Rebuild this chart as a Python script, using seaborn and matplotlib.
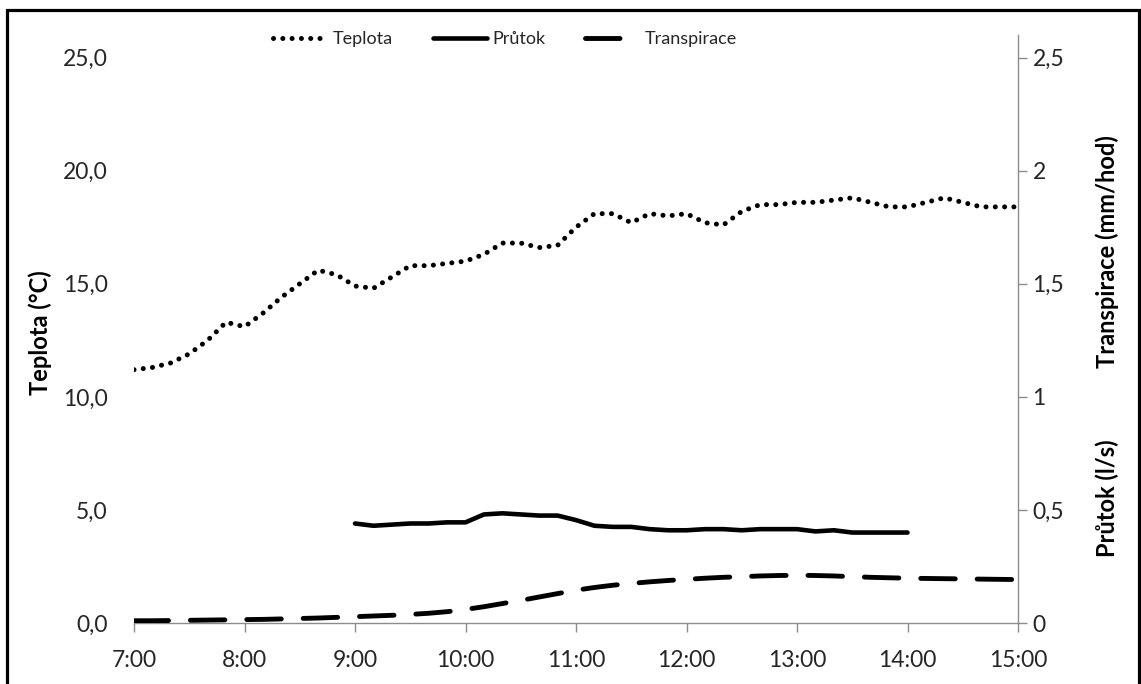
import numpy as np
import pandas as pd
import matplotlib
matplotlib.use("Agg")
import matplotlib.pyplot as plt
from matplotlib.patches import Rectangle
import seaborn as sns

# Air temperature (°C), 10-minute readings 7:00-15:00
teplota = [11.2, 11.3, 11.5, 11.9, 12.5, 13.3, 13.1, 13.7, 14.4, 15.0,
           15.6, 15.4, 14.9, 14.8, 15.3, 15.8, 15.8, 15.9, 16.0, 16.3,
           16.8, 16.8, 16.6, 16.7, 17.5, 18.1, 18.1, 17.7, 18.1, 18.0,
           18.1, 17.7, 17.6, 18.2, 18.5, 18.5, 18.6, 18.6, 18.7, 18.8,
           18.6, 18.4, 18.4, 18.6, 18.8, 18.6, 18.4, 18.4, 18.4]

# Sap flow (l/s), 10-minute readings 9:00-14:00
prutok = [0.440, 0.430, 0.435, 0.440, 0.440, 0.445, 0.445, 0.480, 0.485, 0.480,
          0.475, 0.475, 0.455, 0.430, 0.425, 0.425, 0.415, 0.410, 0.410, 0.415,
          0.415, 0.410, 0.415, 0.415, 0.415, 0.405, 0.410, 0.400, 0.400, 0.400,
          0.400]

# Transpiration (mm/hod), 10-minute readings 7:00-15:00
transpirace = [0.010, 0.010, 0.011, 0.012, 0.013, 0.014, 0.015, 0.016, 0.018, 0.020,
               0.022, 0.025, 0.028, 0.031, 0.034, 0.038, 0.043, 0.050, 0.060, 0.072,
               0.086, 0.100, 0.115, 0.130, 0.145, 0.157, 0.167, 0.175, 0.182, 0.188,
               0.193, 0.198, 0.202, 0.205, 0.208, 0.210, 0.211, 0.210, 0.208, 0.205,
               0.202, 0.200, 0.198, 0.197, 0.196, 0.195, 0.194, 0.193, 0.192]

time_all = pd.date_range("2000-01-01 07:00", "2000-01-01 15:00", freq="10min")
time_prutok = pd.date_range("2000-01-01 09:00", "2000-01-01 14:00", freq="10min")

x_ticks = pd.date_range("2000-01-01 07:00", "2000-01-01 15:00", freq="1h")
x_ticklabels = ["7:00", "8:00", "9:00", "10:00", "11:00", "12:00", "13:00", "14:00", "15:00"]
left_ticks = [0, 5, 10, 15, 20, 25]
left_ticklabels = ["0,0", "5,0", "10,0", "15,0", "20,0", "25,0"]
right_ticks = [0, 0.5, 1, 1.5, 2, 2.5]
right_ticklabels = ["0", "0,5", "1", "1,5", "2", "2,5"]

sns.set_style("white")
plt.rcParams["font.family"] = ["Lato", "DejaVu Sans"]

W, H = 1141, 684
fig = plt.figure(figsize=(W / 100, H / 100), dpi=100)
ax = fig.add_axes([134 / W, 61 / H, 884 / W, 588 / H])
ax2 = ax.twinx()

line_kw = dict(color="black", solid_capstyle="round", dash_capstyle="round")
sns.lineplot(x=time_all, y=teplota, ax=ax, lw=3.6,
             linestyle=(0, (0.01, 1.85)), label="Teplota", legend=False, **line_kw)
sns.lineplot(x=time_prutok, y=prutok, ax=ax2, lw=3.3,
             label="Průtok", legend=False, **line_kw)
sns.lineplot(x=time_all, y=transpirace, ax=ax2, lw=3.5,
             linestyle=(0, (7.1, 4.5)), label="Transpirace", legend=False, **line_kw)

axis_gray = "#8c8c8c"
text_col = "#262626"

ax.set_xlim(time_all[0], time_all[-1])
ax.set_ylim(0, 26)
ax2.set_ylim(0, 2.6)

ax.set_xticks(x_ticks)
ax.set_xticklabels(x_ticklabels)
ax.set_yticks(left_ticks)
ax.set_yticklabels(left_ticklabels)
ax2.set_yticks(right_ticks)
ax2.set_yticklabels(right_ticklabels)

for a in (ax, ax2):
    a.set_xlabel("")
    a.set_ylabel("")
    for s in a.spines.values():
        s.set_visible(False)
    a.patch.set_visible(False)

ax.spines["bottom"].set_visible(True)
ax.spines["bottom"].set_color(axis_gray)
ax.spines["bottom"].set_linewidth(1.0)
ax2.spines["right"].set_visible(True)
ax2.spines["right"].set_color(axis_gray)
ax2.spines["right"].set_linewidth(1.0)

ax.tick_params(axis="x", direction="out", length=6.5, width=1.0, color=axis_gray,
               pad=13, labelsize=16.5, labelcolor=text_col, bottom=True)
ax.tick_params(axis="y", length=0, pad=19, labelsize=16.5, labelcolor=text_col, left=True)
ax2.tick_params(axis="y", direction="out", length=6.5, width=1.0, color=axis_gray,
                pad=4, labelsize=16.5, labelcolor=text_col, right=True)

title_kw = dict(rotation=90, fontsize=17, fontweight="bold", ha="center",
                va="center", color="black")
fig.text(40 / W, 1 - 333 / H, "Teplota (°C)", **title_kw)
fig.text(1107 / W, 1 - 252 / H, "Transpirace (mm/hod)", **title_kw)
fig.text(1107 / W, 1 - 498 / H, "Průtok (l/s)", **title_kw)

handles = [ax.lines[0], ax2.lines[0], ax2.lines[1]]
fig.legend(handles, ["Teplota", "Průtok", "Transpirace"], ncol=3, loc="center",
           bbox_to_anchor=(505 / W, 1 - 39 / H), frameon=False, fontsize=13,
           handlelength=3.0, handletextpad=0.3, columnspacing=2.2,
           borderpad=0, borderaxespad=0)

fig.add_artist(Rectangle((6.5 / W, -0.05), (1138.5 - 6.5) / W, (H - 9.5) / H + 0.05,
                         transform=fig.transFigure, fill=False, ec="black", lw=2.3))

fig.savefig("out.png", dpi=100)
